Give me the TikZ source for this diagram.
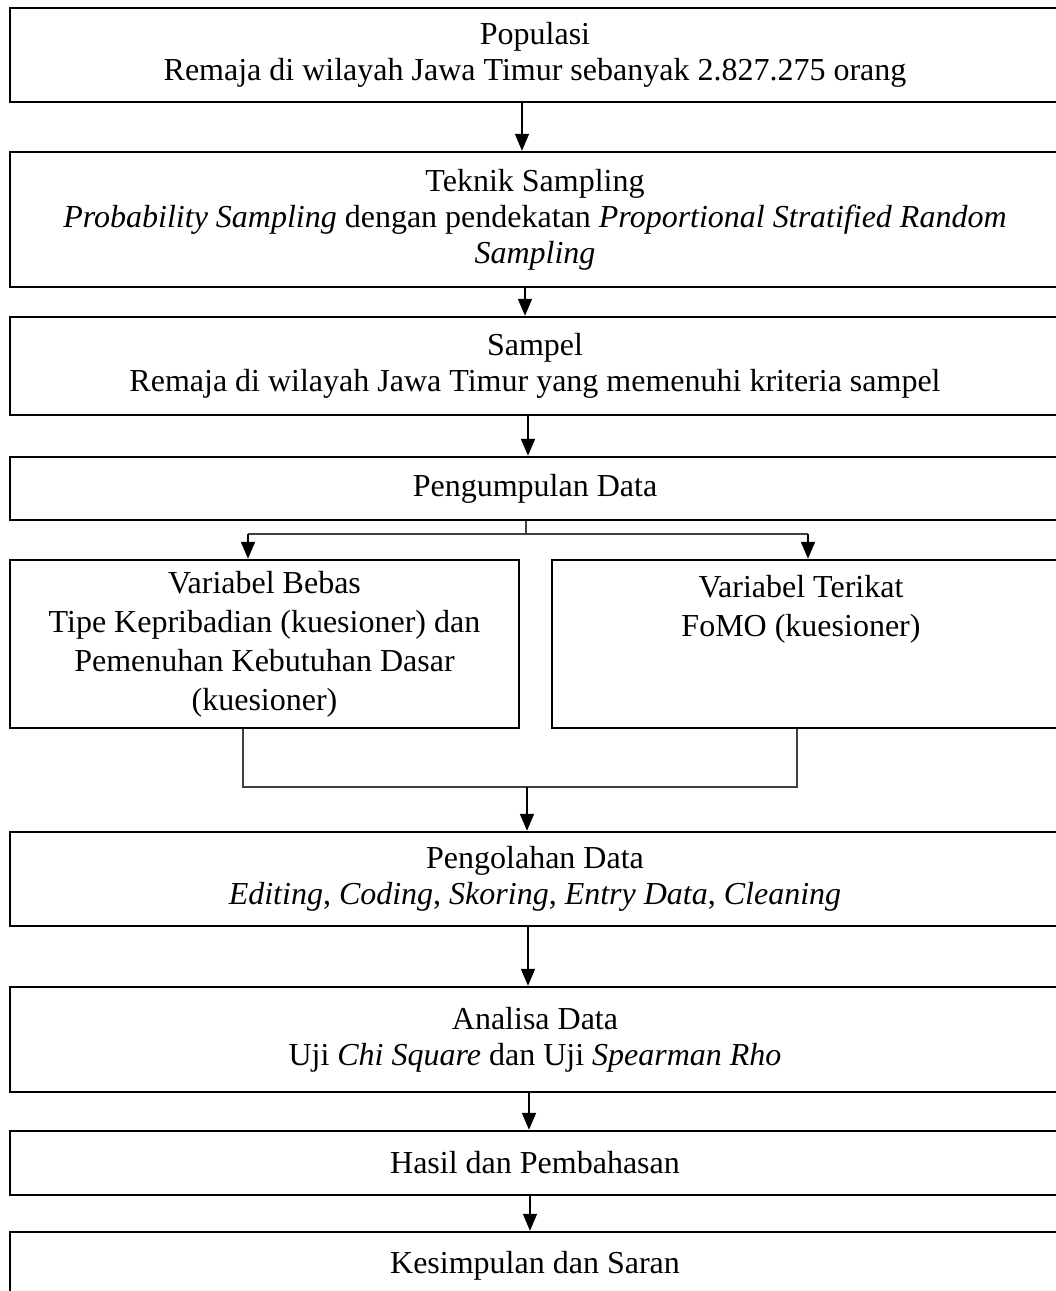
\documentclass[tikz,border=0pt]{standalone}
\usepackage{fontspec}
\setmainfont{Liberation Serif}
\usetikzlibrary{arrows.meta,calc}
\begin{document}
\begin{tikzpicture}[x=1pt,y=-1pt,
  box/.style={draw=black,line width=2.4pt,rectangle,inner sep=0pt,align=center,
    font=\fontsize{32}{36}\selectfont},
  txt/.style={inner sep=0pt,align=center,font=\fontsize{32}{36}\selectfont},
  arr/.style={line width=1.8pt,-{Triangle[length=17pt,width=14pt]}},
  thinline/.style={line width=1.3pt,draw=black!75}]
\path[use as bounding box] (0,0) rectangle (1056,1291);
\clip (0,0) rectangle (1056,1291);

\node[box,minimum width=1050pt,minimum height=94pt] (pop) at (535,55)
  {Populasi\\Remaja di wilayah Jawa Timur sebanyak 2.827.275 orang};
\node[box,minimum width=1050pt,minimum height=135pt] (tek) at (535,219.5)
  {Teknik Sampling\\\textit{Probability Sampling} dengan pendekatan \textit{Proportional Stratified Random}\\\textit{Sampling}};
\node[box,minimum width=1050pt,minimum height=98pt] (sam) at (535,366)
  {Sampel\\Remaja di wilayah Jawa Timur yang memenuhi kriteria sampel};
\node[box,minimum width=1050pt,minimum height=63pt] (pd) at (535,488.5)
  {Pengumpulan Data};
\node[box,minimum width=509pt,minimum height=168pt,font=\fontsize{32}{39}\selectfont] (vb) at (264.5,644)
  {Variabel Bebas\\Tipe Kepribadian (kuesioner) dan\\Pemenuhan Kebutuhan Dasar\\(kuesioner)};
\node[box,minimum width=508pt,minimum height=168pt] (vt) at (806,644) {};
\node[txt,anchor=north,font=\fontsize{32}{39}\selectfont] (vtt) at (801,575)
  {Variabel Terikat\\FoMO (kuesioner)};
\node[box,minimum width=1050pt,minimum height=94pt] (peng) at (535,879)
  {Pengolahan Data\\\textit{Editing}, \textit{Coding}, \textit{Skoring}, \textit{Entry Data}, \textit{Cleaning}};
\node[box,minimum width=1050pt,minimum height=105pt] (ana) at (535,1039.5)
  {Analisa Data\\Uji \textit{Chi Square} dan Uji \textit{Spearman Rho}};
\node[box,minimum width=1050pt,minimum height=64pt] (has) at (535,1163)
  {Hasil dan Pembahasan};
\node[box,minimum width=1050pt,minimum height=108pt] (kes) at (535,1286) {};
\node[txt,anchor=base] (kest) at (535,1273) {Kesimpulan dan Saran};

% arrows
\draw[arr] ([xshift=-13pt]pop.south) -- ([xshift=-13pt]tek.north);
\draw[arr] ([xshift=-10pt]tek.south) -- ([xshift=-10pt]sam.north);
\draw[arr] ([xshift=-7pt]sam.south) -- ([xshift=-7pt]pd.north);

% split
\coordinate (sp) at (526,534);
\draw[thinline] ([xshift=-9pt]pd.south) -- (sp);
\draw[thinline] (sp -| 248,0) -- (sp -| 808,0);
\draw[arr] (sp -| 248,0) -- (248,0 |- vb.north);
\draw[arr] (sp -| 808,0) -- (808,0 |- vt.north);

% join
\coordinate (jn) at (527,787);
\draw[thinline] ([xshift=-21.5pt]vb.south) |- (jn) -| ([xshift=-9pt]vt.south);
\draw[arr] (jn) -- (jn |- peng.north);

\draw[arr] ([xshift=-7pt]peng.south) -- ([xshift=-7pt]ana.north);
\draw[arr] ([xshift=-6pt]ana.south) -- ([xshift=-6pt]has.north);
\draw[arr] ([xshift=-5pt]has.south) -- ([xshift=-5pt]kes.north);
\end{tikzpicture}
\end{document}
